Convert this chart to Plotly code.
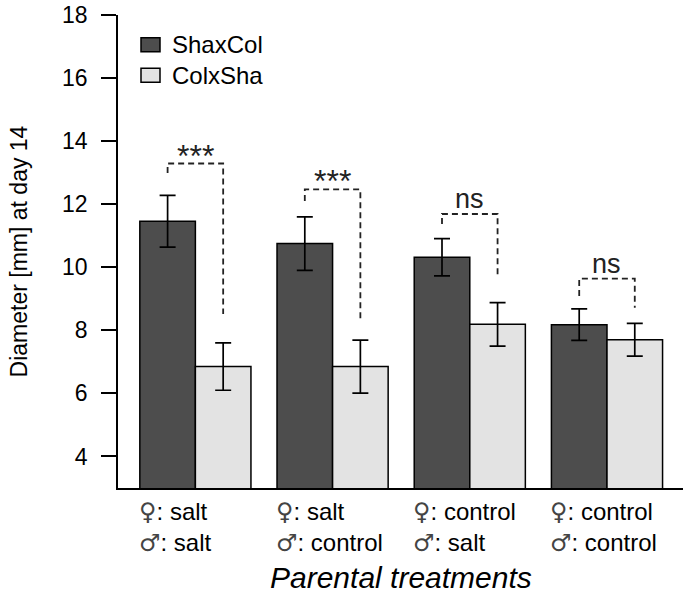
import plotly.graph_objects as go

# ---------------- data ----------------
female = ["salt", "salt", "control", "control"]
male = ["salt", "control", "salt", "control"]
sha_col = [11.46, 10.75, 10.32, 8.18]
sha_col_err = [0.82, 0.85, 0.59, 0.50]
col_sha = [6.85, 6.85, 8.19, 7.70]
col_sha_err = [0.75, 0.84, 0.69, 0.52]
sig_labels = ["***", "***", "ns", "ns"]
bracket_top = [13.29, 12.47, 11.69, 9.64]
bracket_left_end = [12.99, 12.10, 11.37, 9.09]
bracket_right_end = [8.52, 8.27, 9.65, 8.72]
y_ticks = [4, 6, 8, 10, 12, 14, 16, 18]
series_names = ["ShaxCol", "ColxSha"]

# ---------------- layout constants ----------------
W, H = 690, 598
ML, MR, MT, MB = 118, 7, 15, 110
PW, PH = W - ML - MR, H - MT - MB
DARK, LIGHT = "#4d4d4d", "#e3e3e3"
FONT = "Liberation Sans, Arial, sans-serif"
SYM = '<span style="font-family:DejaVu Sans;fill:#444444">{}</span>'
BARGAP = 0.19
x = list(range(len(sha_col)))
off = (1 - BARGAP) / 4


def px_x(p):
    return (p - ML) / PW


def px_y(p):
    return (H - MB - p) / PH


fig = go.Figure()
for name, vals, errs, col in [(series_names[0], sha_col, sha_col_err, DARK),
                              (series_names[1], col_sha, col_sha_err, LIGHT)]:
    fig.add_trace(go.Bar(
        x=x, y=vals, name=name, marker=dict(color=col, line=dict(color="black", width=1.5)),
        error_y=dict(type="data", array=errs, visible=True, color="black", thickness=1.7, width=8),
        showlegend=False,
    ))

shapes = []
annotations = []
for i in x:
    xl, xr = i - off, i + off
    shapes.append(dict(
        type="path", xref="x", yref="y",
        path=f"M {xl},{bracket_left_end[i]} L {xl},{bracket_top[i]} L {xr},{bracket_top[i]} L {xr},{bracket_right_end[i]}",
        line=dict(color="#222222", width=1.8, dash="6px,4px"),
    ))
    is_star = sig_labels[i] == "***"
    annotations.append(dict(
        x=i, y=bracket_top[i], xref="x", yref="y", text=sig_labels[i],
        showarrow=False, yanchor="bottom", yshift=-12 if is_star else -2,
        font=dict(family=FONT, size=32 if is_star else 27, color="#222222"),
    ))
    label = (SYM.format("♀") + ": " + female[i] + "<br>" + SYM.format("♂") + ": " + male[i])
    annotations.append(dict(
        x=i - 2 * off, y=0, xref="x", yref="paper", text=label,
        showarrow=False, xanchor="left", yanchor="top", align="left", xshift=-3, yshift=-8,
        font=dict(family=FONT, size=24, color="black"),
    ))

# x-axis title
annotations.append(dict(
    x=0.5, y=0, xref="paper", yref="paper", text="<i>Parental treatments</i>",
    showarrow=False, xanchor="center", yanchor="top", yshift=-71,
    font=dict(family=FONT, size=30, color="black"),
))

# legend drawn manually
for k, (name, col) in enumerate(zip(series_names, [DARK, LIGHT])):
    y0 = 37.7 + 30.5 * k
    shapes.append(dict(
        type="rect", xref="paper", yref="paper",
        x0=px_x(141), x1=px_x(160), y0=px_y(y0 + 14), y1=px_y(y0),
        fillcolor=col, line=dict(color="black", width=1.5),
    ))
    annotations.append(dict(
        x=px_x(170), y=px_y(y0 + 7), xref="paper", yref="paper", text=name,
        showarrow=False, xanchor="left", yanchor="middle",
        font=dict(family=FONT, size=24, color="black"),
    ))

fig.update_layout(
    width=W, height=H,
    margin=dict(l=ML, r=MR, t=MT, b=MB, autoexpand=False),
    paper_bgcolor="white", plot_bgcolor="white",
    barmode="group", bargap=BARGAP, bargroupgap=0,
    font=dict(family=FONT, color="black"),
    shapes=shapes, annotations=annotations,
    xaxis=dict(range=[-0.564, 3.554], showline=True, linecolor="black", linewidth=1.5,
               showticklabels=False, ticks="", showgrid=False, zeroline=False,
               automargin=False, fixedrange=True),
    yaxis=dict(range=[3, 18], tickvals=y_ticks, ticks="outside", ticklen=15, tickwidth=1.5,
               tickcolor="black", showline=True, linecolor="black", linewidth=1.5,
               showgrid=False, zeroline=False, ticklabelstandoff=9, automargin=False,
               tickfont=dict(family=FONT, size=23, color="black"),
               title=dict(text="Diameter [mm] at day 14", standoff=28,
                          font=dict(family=FONT, size=23, color="black"))),
)

fig.write_html("out.html", config={"displayModeBar": False},
               post_script="document.body.style.margin='0';document.body.style.overflow='hidden';")
